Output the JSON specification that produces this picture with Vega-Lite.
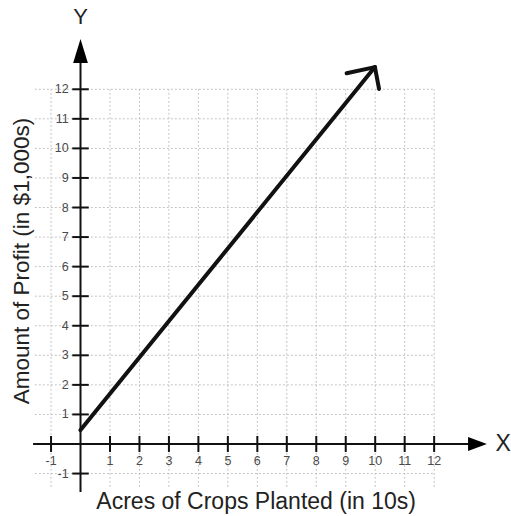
{
  "$schema": "https://vega.github.io/schema/vega-lite/v6.json",
  "width": 511,
  "height": 516,
  "autosize": "none",
  "padding": 0,
  "background": "white",
  "config": {"view": {"stroke": null}},
  "datasets": {
    "grid": [{"v": -1}, {"v": 1}, {"v": 2}, {"v": 3}, {"v": 4}, {"v": 5}, {"v": 6}, {"v": 7}, {"v": 8}, {"v": 9}, {"v": 10}, {"v": 11}, {"v": 12}],
    "ticks": [{"v": -1, "t": "-1"}, {"v": 1, "t": "1"}, {"v": 2, "t": "2"}, {"v": 3, "t": "3"}, {"v": 4, "t": "4"}, {"v": 5, "t": "5"}, {"v": 6, "t": "6"}, {"v": 7, "t": "7"}, {"v": 8, "t": "8"}, {"v": 9, "t": "9"}, {"v": 10, "t": "10"}, {"v": 11, "t": "11"}, {"v": 12, "t": "12"}],
    "profit": [{"acres": 0, "profit": 0.47}, {"acres": 9.99, "profit": 12.75}],
    "head": [
      {"x": 9.03, "y": 12.54, "x2": 9.99, "y2": 12.75},
      {"x": 10.13, "y": 12.01, "x2": 9.99, "y2": 12.75}
    ],
    "xarrow": [{"x": 13.15, "lo": -0.237, "hi": 0.237}, {"x": 13.79, "lo": 0, "hi": 0}],
    "yarrow": [{"y": 12.89, "lo": -0.25, "hi": 0.25}, {"y": 13.7, "lo": 0, "hi": 0}]
  },
  "layer": [
    {
      "data": {"name": "grid"},
      "mark": {"type": "rule", "color": "#c4c4c4", "strokeWidth": 1, "strokeDash": [2, 2]},
      "encoding": {
        "y": {"field": "v", "type": "quantitative", "scale": {"domain": [-2.436, 15.02], "nice": false, "zero": false}, "axis": null},
        "x": {"datum": -1.55, "type": "quantitative", "scale": {"domain": [-2.732, 14.608], "nice": false, "zero": false}, "axis": null},
        "x2": {"datum": 12}
      }
    },
    {
      "data": {"name": "grid"},
      "mark": {"type": "rule", "color": "#c4c4c4", "strokeWidth": 1, "strokeDash": [2, 2]},
      "encoding": {
        "x": {"field": "v", "type": "quantitative"},
        "y": {"datum": -1.45, "type": "quantitative"},
        "y2": {"datum": 12}
      }
    },
    {
      "data": {"values": [{}]},
      "mark": {"type": "rule", "color": "#111111", "strokeWidth": 2},
      "encoding": {
        "x": {"datum": -1.61, "type": "quantitative"},
        "x2": {"datum": 13.2},
        "y": {"datum": 0, "type": "quantitative"}
      }
    },
    {
      "data": {"values": [{}]},
      "mark": {"type": "rule", "color": "#111111", "strokeWidth": 2},
      "encoding": {
        "y": {"datum": -1.62, "type": "quantitative"},
        "y2": {"datum": 12.95},
        "x": {"datum": 0, "type": "quantitative"}
      }
    },
    {
      "data": {"name": "xarrow"},
      "mark": {"type": "area", "color": "#000000", "orient": "vertical"},
      "encoding": {
        "x": {"field": "x", "type": "quantitative"},
        "y": {"field": "lo", "type": "quantitative"},
        "y2": {"field": "hi"}
      }
    },
    {
      "data": {"name": "yarrow"},
      "mark": {"type": "area", "color": "#000000", "orient": "horizontal"},
      "encoding": {
        "y": {"field": "y", "type": "quantitative"},
        "x": {"field": "lo", "type": "quantitative"},
        "x2": {"field": "hi"}
      }
    },
    {
      "data": {"name": "grid"},
      "mark": {"type": "rule", "color": "#111111", "strokeWidth": 2},
      "encoding": {
        "x": {"field": "v", "type": "quantitative"},
        "y": {"datum": -0.27, "type": "quantitative"},
        "y2": {"datum": 0.27}
      }
    },
    {
      "data": {"name": "grid"},
      "mark": {"type": "rule", "color": "#111111", "strokeWidth": 2},
      "encoding": {
        "y": {"field": "v", "type": "quantitative"},
        "x": {"datum": -0.28, "type": "quantitative"},
        "x2": {"datum": 0.28}
      }
    },
    {
      "data": {"name": "ticks"},
      "mark": {"type": "text", "font": "Liberation Sans", "fontSize": 12.5, "color": "#4a4a4a", "align": "center", "baseline": "middle"},
      "encoding": {
        "x": {"field": "v", "type": "quantitative"},
        "y": {"datum": -0.58, "type": "quantitative"},
        "text": {"field": "t"}
      }
    },
    {
      "data": {"name": "ticks"},
      "mark": {"type": "text", "font": "Liberation Sans", "fontSize": 12.5, "color": "#4a4a4a", "align": "right", "baseline": "middle"},
      "encoding": {
        "y": {"field": "v", "type": "quantitative"},
        "x": {"datum": -0.4, "type": "quantitative"},
        "text": {"field": "t"}
      }
    },
    {
      "data": {"name": "profit"},
      "mark": {"type": "line", "color": "#111111", "strokeWidth": 4, "strokeCap": "round"},
      "encoding": {
        "x": {"field": "acres", "type": "quantitative"},
        "y": {"field": "profit", "type": "quantitative"}
      }
    },
    {
      "data": {"name": "head"},
      "mark": {"type": "rule", "color": "#111111", "strokeWidth": 4, "strokeCap": "round"},
      "encoding": {
        "x": {"field": "x", "type": "quantitative"},
        "y": {"field": "y", "type": "quantitative"},
        "x2": {"field": "x2"},
        "y2": {"field": "y2"}
      }
    },
    {
      "data": {"values": [{"t": "Amount of Profit (in $1,000s)"}]},
      "mark": {"type": "text", "font": "Liberation Sans", "fontSize": 22.5, "color": "#222222", "angle": 270, "align": "center", "baseline": "middle"},
      "encoding": {
        "x": {"datum": -1.985, "type": "quantitative"},
        "y": {"datum": 6.19, "type": "quantitative"},
        "text": {"field": "t"}
      }
    },
    {
      "data": {"values": [{"t": "Acres of Crops Planted (in 10s)"}]},
      "mark": {"type": "text", "font": "Liberation Sans", "fontSize": 23, "color": "#222222", "align": "center", "baseline": "middle"},
      "encoding": {
        "x": {"datum": 5.96, "type": "quantitative"},
        "y": {"datum": -1.96, "type": "quantitative"},
        "text": {"field": "t"}
      }
    },
    {
      "data": {"values": [{"t": "Y"}]},
      "mark": {"type": "text", "font": "Liberation Sans", "fontSize": 22, "color": "#222222", "align": "center", "baseline": "middle"},
      "encoding": {
        "x": {"datum": 0, "type": "quantitative"},
        "y": {"datum": 14.45, "type": "quantitative"},
        "text": {"field": "t"}
      }
    },
    {
      "data": {"values": [{"t": "X"}]},
      "mark": {"type": "text", "font": "Liberation Sans", "fontSize": 23, "color": "#222222", "align": "center", "baseline": "middle"},
      "encoding": {
        "x": {"datum": 14.34, "type": "quantitative"},
        "y": {"datum": 0, "type": "quantitative"},
        "text": {"field": "t"}
      }
    }
  ]
}
